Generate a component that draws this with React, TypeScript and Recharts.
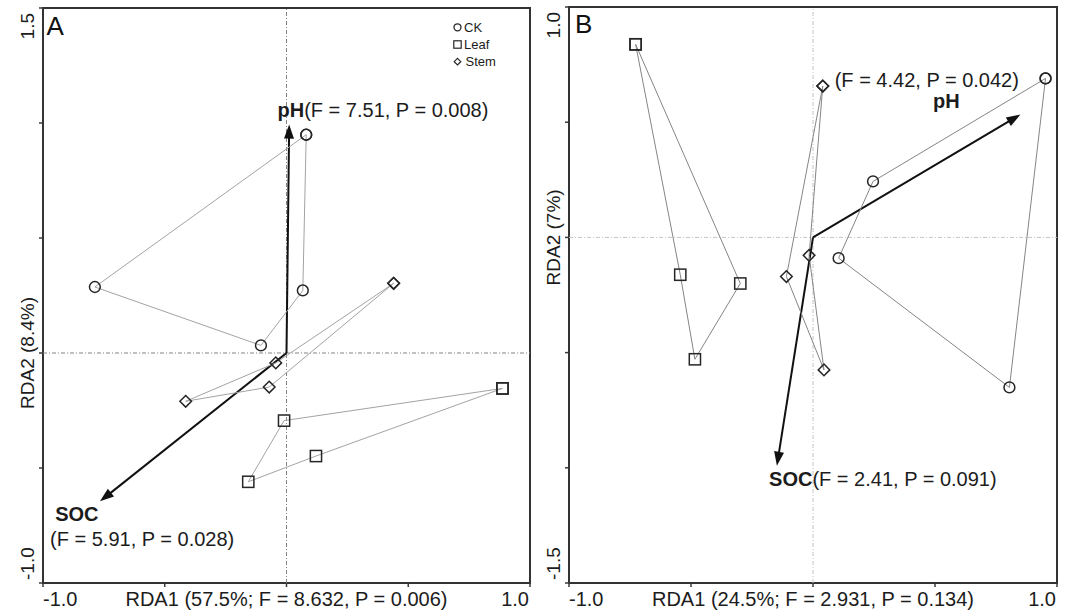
import React from 'react';
import {
  ScatterChart,
  Scatter,
  XAxis,
  YAxis,
  ReferenceLine,
  ReferenceArea,
  ReferenceDot,
  Legend,
} from 'recharts';

const FONT = '"Liberation Sans", Arial, Helvetica, sans-serif';
const TEXT = '#1c1c1c';

// ---------------- shared ----------------
const groupNames = ['CK', 'Leaf', 'Stem'];

// ---------------- Panel A ----------------
const ckA = [
  { x: 0.081, y: 0.949 },
  { x: -0.787, y: 0.287 },
  { x: -0.105, y: 0.033 },
  { x: 0.067, y: 0.272 },
];
const leafA = [
  { x: 0.887, y: -0.154 },
  { x: -0.01, y: -0.294 },
  { x: -0.157, y: -0.56 },
  { x: 0.121, y: -0.448 },
];
const stemA = [
  { x: 0.44, y: 0.303 },
  { x: -0.044, y: -0.043 },
  { x: -0.414, y: -0.21 },
  { x: -0.071, y: -0.148 },
];
const envNamesA = ['pH', 'SOC'];
const envTipsA = [
  { x: 0.011, y: 0.993 },
  { x: -0.766, y: -0.645 },
];
const envStatsA = ['(F = 7.51, P = 0.008)', '(F = 5.91, P = 0.028)'];
const xTicksA = [-1, -0.5, 0, 0.5, 1];
const xTickLabelsA = ['-1.0', '', '', '', '1.0'];
const yTicksA = [-1, -0.5, 0, 0.5, 1, 1.5];
const yTickLabelsA = ['-1.0', '', '', '', '', '1.5'];
const xTitleA = 'RDA1 (57.5%; F = 8.632, P = 0.006)';
const yTitleA = 'RDA2 (8.4%)';

// ---------------- Panel B ----------------
const ckB = [
  { x: 0.953, y: 0.69 },
  { x: 0.246, y: 0.243 },
  { x: 0.105, y: -0.09 },
  { x: 0.805, y: -0.651 },
];
const leafB = [
  { x: -0.727, y: 0.838 },
  { x: -0.544, y: -0.162 },
  { x: -0.484, y: -0.529 },
  { x: -0.298, y: -0.2 },
];
const stemB = [
  { x: 0.04, y: 0.657 },
  { x: -0.109, y: -0.17 },
  { x: 0.045, y: -0.575 },
  { x: -0.016, y: -0.078 },
];
const envNamesB = ['pH', 'SOC'];
const envTipsB = [
  { x: 0.85, y: 0.533 },
  { x: -0.148, y: -0.991 },
];
const envStatsB = ['(F = 4.42, P = 0.042)', '(F = 2.41, P = 0.091)'];
const xTicksB = [-1, -0.5, 0, 0.5, 1];
const xTickLabelsB = ['-1.0', '', '', '', '1.0'];
const yTicksB = [-1.5, -1, -0.5, 0, 0.5, 1];
const yTickLabelsB = ['-1.5', '', '', '', '', '1.0'];
const xTitleB = 'RDA1 (24.5%; F = 2.931, P = 0.134)';
const yTitleB = 'RDA2 (7%)';

// ---------------- label layout (data units of each panel) ----------------
const labelLayoutA = [
  { x: -0.037, y: 1.026, bold: envNamesA[0], plain: envStatsA[0] },
  { x: -0.95, y: -0.732, bold: envNamesA[1], plain: '' },
  { x: -0.971, y: -0.838, bold: '', plain: envStatsA[1] },
];
const labelLayoutB = [
  { x: 0.089, y: 0.654, bold: '', plain: envStatsB[0] },
  { x: 0.492, y: 0.563, bold: envNamesB[0], plain: '' },
  { x: -0.18, y: -1.081, bold: envNamesB[1], plain: envStatsB[1] },
];

const closed = (pts: { x: number; y: number }[]) => [...pts, pts[0]];

// ---------------- shapes ----------------
const MK = '#262626';
const circleShape = (p: any) => (
  <circle cx={p.cx} cy={p.cy} r={5.4} fill="none" stroke={MK} strokeWidth={1.5} />
);
const squareShape = (p: any) => (
  <rect x={p.cx - 5.6} y={p.cy - 5.6} width={11.2} height={11.2} fill="none" stroke={MK} strokeWidth={1.5} />
);
const diamondShape = (p: any) => {
  const d = 5.8;
  return (
    <polygon
      points={`${p.cx},${p.cy - d} ${p.cx + d},${p.cy} ${p.cx},${p.cy + d} ${p.cx - d},${p.cy}`}
      fill="none"
      stroke={MK}
      strokeWidth={1.5}
    />
  );
};
const shapes = [circleShape, squareShape, diamondShape];

const arrowShape = (p: any) => {
  const x1 = Number(p.x1), y1 = Number(p.y1), x2 = Number(p.x2), y2 = Number(p.y2);
  const dx = x2 - x1, dy = y2 - y1;
  const len = Math.hypot(dx, dy) || 1;
  const ux = dx / len, uy = dy / len;
  const hl = 14, hw = 5;
  const bx = x2 - ux * hl, by = y2 - uy * hl;
  const px = -uy, py = ux;
  return (
    <g>
      <line x1={x1} y1={y1} x2={bx + ux * 2} y2={by + uy * 2} stroke="#111" strokeWidth={2} />
      <polygon
        points={`${x2},${y2} ${bx + px * hw},${by + py * hw} ${bx - px * hw},${by - py * hw}`}
        fill="#111"
      />
    </g>
  );
};

const makeLabelShape = (bold: string, plain: string) => (p: any) => (
  <text x={p.cx} y={p.cy} fontFamily={FONT} fontSize={20} fill={TEXT}>
    {bold ? <tspan fontWeight="bold">{bold}</tspan> : null}
    {plain ? <tspan>{plain}</tspan> : null}
  </text>
);

const makeLetterShape = (letter: string) => (p: any) => (
  <text x={p.cx} y={p.cy} fontFamily={FONT} fontSize={26} fill="#111">
    {letter}
  </text>
);

// ---------------- ticks ----------------
function makeXTick(ticks: number[], labels: string[], title: string) {
  return (props: any) => {
    const { x, y, payload } = props;
    const v = payload.value;
    const i = ticks.indexOf(v);
    const base = y + 17;
    const common = { fontFamily: FONT, fontSize: 20, fill: TEXT };
    if (v === 0) {
      return (
        <text x={x} y={base} textAnchor="middle" {...common}>
          {title}
        </text>
      );
    }
    const s = labels[i];
    if (!s) return <g />;
    const first = i === 0;
    return (
      <text x={first ? x : x - 1} y={base} textAnchor={first ? 'start' : 'end'} {...common}>
        {s}
      </text>
    );
  };
}

function makeYTick(ticks: number[], labels: string[], title: string) {
  return (props: any) => {
    const { x, y, payload } = props;
    const v = payload.value;
    const i = ticks.indexOf(v);
    const bx = x - 3;
    let anchor = 'middle';
    let ty = y;
    let s = '';
    if (v === 0) {
      s = title;
    } else if (i === ticks.length - 1) {
      anchor = 'end';
      ty = y + 5;
      s = labels[i];
    } else if (i === 0) {
      anchor = 'start';
      ty = y - 3;
      s = labels[i];
    }
    if (!s) return <g />;
    return (
      <text
        x={bx}
        y={ty}
        transform={`rotate(-90 ${bx} ${ty})`}
        textAnchor={anchor as any}
        fontFamily={FONT}
        fontSize={19}
        fill={TEXT}
      >
        {s}
      </text>
    );
  };
}

// ---------------- legend ----------------
const LegendContent = () => (
  <svg width={70} height={56} style={{ display: 'block' }}>
    {groupNames.map((n, i) => {
      const cy = 9.3 + i * 17.2;
      const cx = 7.5;
      let mk;
      if (i === 0) mk = <circle cx={cx} cy={cy} r={3.5} fill="none" stroke={MK} strokeWidth={1.3} />;
      else if (i === 1)
        mk = <rect x={cx - 3.7} y={cy - 3.7} width={7.4} height={7.4} fill="none" stroke={MK} strokeWidth={1.2} />;
      else
        mk = (
          <polygon
            points={`${cx},${cy - 3.3} ${cx + 3.3},${cy} ${cx},${cy + 3.3} ${cx - 3.3},${cy}`}
            fill="none"
            stroke={MK}
            strokeWidth={1.2}
          />
        );
      return (
        <g key={n}>
          {mk}
          <text x={i === 2 ? 15.5 : 14} y={cy + 4.5} fontFamily={FONT} fontSize={13} fill={TEXT}>
            {n}
          </text>
        </g>
      );
    })}
  </svg>
);

// ---------------- panel ----------------
type PanelProps = {
  width: number;
  margin: { top: number; right: number; bottom: number; left: number };
  yAxisWidth: number;
  xDomain: [number, number];
  yDomain: [number, number];
  xTicks: number[];
  xTickLabels: string[];
  yTicks: number[];
  yTickLabels: string[];
  xTitle: string;
  yTitle: string;
  groups: { x: number; y: number }[][];
  tips: { x: number; y: number }[];
  labels: { x: number; y: number; bold: string; plain: string }[];
  letter: string;
  letterPos: { x: number; y: number };
  lineColor: string;
  zeroColor: string;
  showLegend: boolean;
};

function Panel(props: PanelProps) {
  const {
    width, margin, yAxisWidth, xDomain, yDomain, xTicks, xTickLabels, yTicks, yTickLabels,
    xTitle, yTitle, groups, tips, labels, letter, letterPos, lineColor, zeroColor, showLegend,
  } = props;
  return (
    <ScatterChart width={width} height={613} margin={margin}>
      <XAxis
        type="number"
        dataKey="x"
        domain={xDomain}
        ticks={xTicks}
        interval={0}
        allowDataOverflow
        axisLine={false}
        tickLine={{ stroke: '#3a3a3a', strokeWidth: 1.5 }}
        tickSize={4}
        tickMargin={2}
        height={30}
        tick={makeXTick(xTicks, xTickLabels, xTitle)}
      />
      <YAxis
        type="number"
        dataKey="y"
        domain={yDomain}
        ticks={yTicks}
        interval={0}
        allowDataOverflow
        axisLine={false}
        tickLine={{ stroke: '#3a3a3a', strokeWidth: 1.5 }}
        tickSize={4}
        tickMargin={2}
        width={yAxisWidth}
        tick={makeYTick(yTicks, yTickLabels, yTitle)}
      />
      <ReferenceLine x={0} stroke={zeroColor} strokeWidth={1} strokeDasharray="4 2 1 2" />
      <ReferenceLine y={0} stroke={zeroColor} strokeWidth={1} strokeDasharray="4 2 1 2" />
      <ReferenceArea
        x1={xDomain[0]}
        x2={xDomain[1]}
        y1={yDomain[0]}
        y2={yDomain[1]}
        fill="none"
        fillOpacity={0}
        stroke="#333"
        strokeWidth={2}
      />
      {groups.map((g, i) => (
        <Scatter
          key={groupNames[i]}
          name={groupNames[i]}
          data={closed(g)}
          line={{ stroke: lineColor, strokeWidth: 1 }}
          lineType="joint"
          shape={shapes[i]}
          isAnimationActive={false}
        />
      ))}
      {tips.map((t, i) => (
        <ReferenceLine
          key={'arrow' + i}
          segment={[{ x: 0, y: 0 }, { x: t.x, y: t.y }]}
          shape={arrowShape}
        />
      ))}
      {labels.map((l, i) => (
        <ReferenceDot key={'lab' + i} x={l.x} y={l.y} r={0} shape={makeLabelShape(l.bold, l.plain)} />
      ))}
      <ReferenceDot x={letterPos.x} y={letterPos.y} r={0} shape={makeLetterShape(letter)} />
      {showLegend ? (
        <Legend
          layout="vertical"
          align="center"
          verticalAlign="middle"
          wrapperStyle={{ position: 'absolute', left: 450, top: 18, width: 70, height: 56 }}
          content={LegendContent}
        />
      ) : null}
    </ScatterChart>
  );
}

export default function App() {
  return (
    <div
      style={{
        position: 'absolute',
        left: 0,
        top: 0,
        width: 1075,
        height: 613,
        background: '#fff',
        overflow: 'hidden',
      }}
    >
      <div style={{ position: 'absolute', left: 0, top: 0 }}>
        <Panel
          width={540}
          margin={{ top: 8, right: 10, bottom: 0, left: 0 }}
          yAxisWidth={43}
          xDomain={[-1, 1]}
          yDomain={[-1, 1.5]}
          xTicks={xTicksA}
          xTickLabels={xTickLabelsA}
          yTicks={yTicksA}
          yTickLabels={yTickLabelsA}
          xTitle={xTitleA}
          yTitle={yTitleA}
          groups={[ckA, leafA, stemA]}
          tips={envTipsA}
          labels={labelLayoutA}
          letter="A"
          letterPos={{ x: -0.986, y: 1.384 }}
          lineColor="#a3a3a3"
          zeroColor="#858585"
          showLegend={true}
        />
      </div>
      <div style={{ position: 'absolute', left: 535, top: 0 }}>
        <Panel
          width={540}
          margin={{ top: 7, right: 18, bottom: 0, left: 0 }}
          yAxisWidth={34}
          xDomain={[-1, 1]}
          yDomain={[-1.5, 1]}
          xTicks={xTicksB}
          xTickLabels={xTickLabelsB}
          yTicks={yTicksB}
          yTickLabels={yTickLabelsB}
          xTitle={xTitleB}
          yTitle={yTitleB}
          groups={[ckB, leafB, stemB]}
          tips={envTipsB}
          labels={labelLayoutB}
          letter="B"
          letterPos={{ x: -0.975, y: 0.887 }}
          lineColor="#858585"
          zeroColor="#c4c4c4"
          showLegend={false}
        />
      </div>
    </div>
  );
}
